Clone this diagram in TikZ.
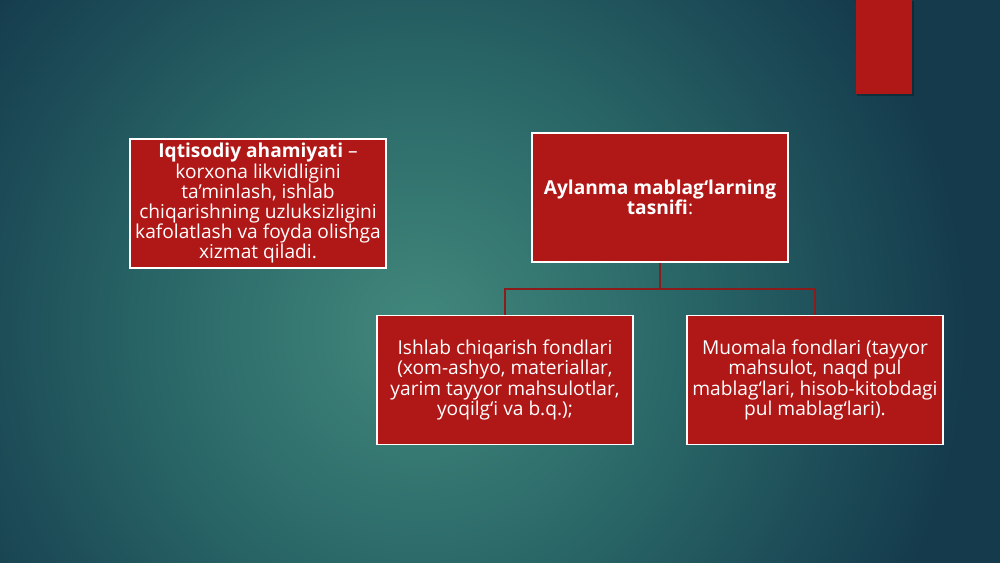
\documentclass[tikz,border=0pt]{standalone}
\usepackage{fontspec}
\setmainfont{Open Sans}
\definecolor{bgdark}{RGB}{20,58,76}
\definecolor{bgmid}{RGB}{42,104,104}
\definecolor{bglight}{RGB}{66,136,124}
\definecolor{boxred}{RGB}{176,24,23}
\definecolor{connred}{RGB}{140,28,28}
\pgfdeclareradialshading{bgrad}{\pgfpoint{0cm}{0cm}}{color(0cm)=(bglight); color(5cm)=(bgmid); color(11cm)=(bgdark); color(25cm)=(bgdark)}
\tikzset{
  redbox/.style={draw=white, line width=0.8pt, fill=boxred, text=white, align=center,
    minimum width=5.12cm, minimum height=2.58cm, inner sep=0pt,
    font=\fontsize{10.9}{11.5}\selectfont},
  conn/.style={draw=connred, line width=1.1pt},
}
\begin{document}
\begin{tikzpicture}[x=0.02cm,y=-0.02cm]
\useasboundingbox (0,0) rectangle (1000,562);
\fill[bgdark] (0,0) rectangle (1000,562);
\begin{scope}
\clip (0,0) rectangle (1000,562);
\node[inner sep=0pt, outer sep=0pt] (bgshade) at (420,330) {\pgfuseshading{bgrad}};
\end{scope}
% top-right decorative bar
\fill[black, opacity=0.25] (857,1) rectangle (914,96);
\fill[boxred] (856,0) rectangle (912,94);
\node[redbox] (left) at (258,203.5) {\textbf{Iqtisodiy ahamiyati} –\\korxona likvidligini\\ta’minlash, ishlab\\chiqarishning uzluksizligini\\kafolatlash va foyda olishga\\xizmat qiladi.};
\node[redbox] (top) at (660,197.5) {\textbf{Aylanma mablag‘larning}\\\textbf{tasnifi}:};
\node[redbox] (bl) at (505,380) {Ishlab chiqarish fondlari\\(xom-ashyo, materiallar,\\yarim tayyor mahsulotlar,\\yoqilg‘i va b.q.);};
\node[redbox] (br) at (815,380) {Muomala fondlari (tayyor\\mahsulot, naqd pul\\mablag‘lari, hisob-kitobdagi\\pul mablag‘lari).};
\coordinate (j) at (660,289);
\draw[conn] (top.south) -- (j);
\draw[conn] (bl.north) |- (j) -| (br.north);
\end{tikzpicture}
\end{document}
